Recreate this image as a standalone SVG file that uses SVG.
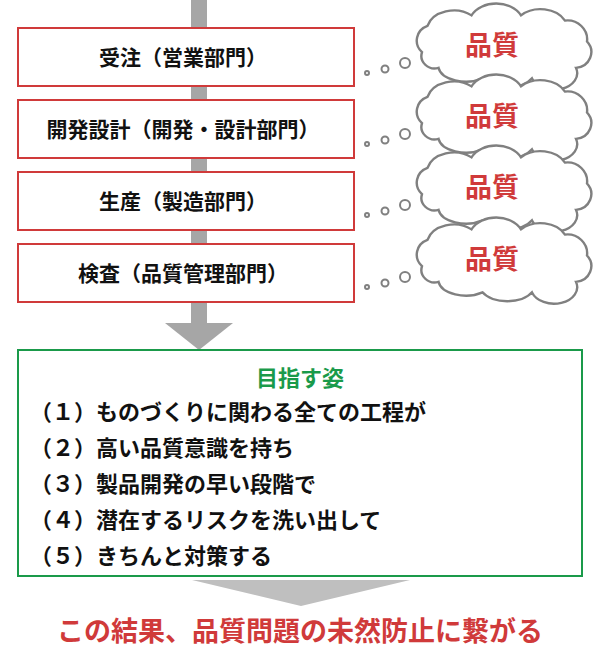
<svg xmlns="http://www.w3.org/2000/svg" width="600" height="661" viewBox="0 0 600 661">
<style>
.box{fill:#fff;stroke:#d03a3a;stroke-width:2}
.t{font-family:"Noto Sans CJK JP",sans-serif;font-weight:bold;font-size:21px;fill:#111}
.q{font-family:"Noto Sans CJK JP",sans-serif;font-weight:bold;font-size:27px;fill:#d03a3a;text-anchor:middle}
.cl{fill:#fff;stroke:#808080;stroke-width:2.2}
.b{fill:#fff;stroke:#808080;stroke-width:2}
.l{font-family:"Noto Sans CJK JP",sans-serif;font-weight:bold;font-size:22px;fill:#111}
</style>
<defs>
<path id="cloud" d="M 20 42 a15 15 0 0 1 5 -25 a25 20 0 0 1 40 -10 a25 20 0 0 1 45 0 a25 20 0 0 1 40 5 a18 18 0 0 1 20 20 a15 15 0 0 1 -10 25 a20 15 0 0 1 -40 10 a25 15 0 0 1 -45 0 a25 15 0 0 1 -40 -10 a12 12 0 0 1 -15 -15 z"/>
</defs>
<g id="connectors">
<rect x="191" y="0" width="16" height="325" fill="#a6a6a6"/>
<polygon points="165,323 233,323 199,350" fill="#a6a6a6"/>
<polygon points="192,580 410,580 301,606" fill="#bfbfbf"/>
</g>
<g id="n1"><rect class="box" x="18" y="28" width="336" height="58"/><text class="t" x="183" y="65" text-anchor="middle">受注（営業部門）</text></g>
<g id="n2"><rect class="box" x="18" y="100" width="336" height="58"/><text class="t" x="183" y="137" text-anchor="middle">開発設計（開発・設計部門）</text></g>
<g id="n3"><rect class="box" x="18" y="172" width="336" height="58"/><text class="t" x="183" y="209" text-anchor="middle">生産（製造部門）</text></g>
<g id="n4"><rect class="box" x="18" y="244" width="336" height="58"/><text class="t" x="183" y="281" text-anchor="middle">検査（品質管理部門）</text></g>
<g id="c1" transform="translate(0,0)"><use href="#cloud" class="cl" transform="translate(400,8) scale(1.1,1.05)"/><circle class="b" cx="367" cy="73" r="2"/><circle class="b" cx="385" cy="69" r="3.5"/><circle class="b" cx="405" cy="63" r="5"/><text class="q" x="492" y="55">品質</text></g>
<g id="c2" transform="translate(0,71)"><use href="#cloud" class="cl" transform="translate(400,8) scale(1.1,1.05)"/><circle class="b" cx="367" cy="73" r="2"/><circle class="b" cx="385" cy="69" r="3.5"/><circle class="b" cx="405" cy="63" r="5"/><text class="q" x="492" y="55">品質</text></g>
<g id="c3" transform="translate(0,142)"><use href="#cloud" class="cl" transform="translate(400,8) scale(1.1,1.05)"/><circle class="b" cx="367" cy="73" r="2"/><circle class="b" cx="385" cy="69" r="3.5"/><circle class="b" cx="405" cy="63" r="5"/><text class="q" x="492" y="55">品質</text></g>
<g id="c4" transform="translate(0,214)"><use href="#cloud" class="cl" transform="translate(400,8) scale(1.1,1.05)"/><circle class="b" cx="367" cy="73" r="2"/><circle class="b" cx="385" cy="69" r="3.5"/><circle class="b" cx="405" cy="63" r="5"/><text class="q" x="492" y="55">品質</text></g>
<g id="goal">
<rect x="18" y="350" width="564" height="226" fill="#fff" stroke="#1a9a4a" stroke-width="2"/>
<text x="300" y="386" text-anchor="middle" style="font-family:'Noto Sans CJK JP',sans-serif;font-weight:bold;font-size:22px;fill:#1a9a4a">目指す姿</text>
<text class="l" x="30" y="420">（１）ものづくりに関わる全ての工程が</text>
<text class="l" x="30" y="456">（２）高い品質意識を持ち</text>
<text class="l" x="30" y="492">（３）製品開発の早い段階で</text>
<text class="l" x="30" y="528">（４）潜在するリスクを洗い出して</text>
<text class="l" x="30" y="564">（５）きちんと対策する</text>
</g>
<g id="result"><text x="300" y="641" text-anchor="middle" style="font-family:'Noto Sans CJK JP',sans-serif;font-weight:bold;font-size:27px;fill:#d03a3a">この結果、品質問題の未然防止に繋がる</text></g>
</svg>
